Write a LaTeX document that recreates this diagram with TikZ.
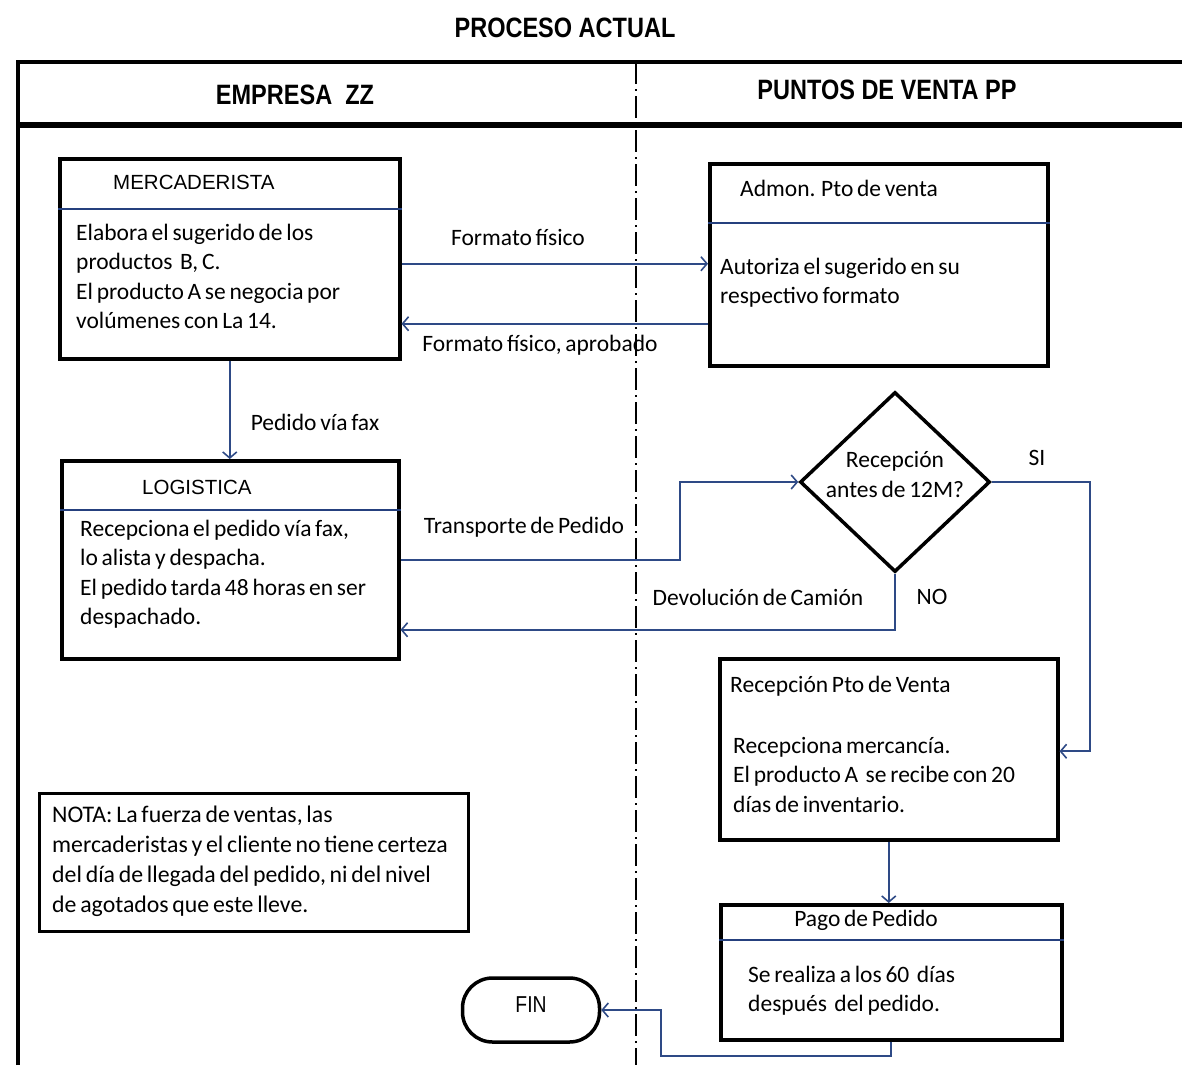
\documentclass[tikz,border=0pt]{standalone}
\usepackage{fontspec}
\setmainfont{Carlito}[WordSpace=0.7]
\newfontfamily\hdr[FakeStretch=0.84]{Liberation Sans}
\newfontfamily\arl{Liberation Sans}
\usetikzlibrary{arrows.meta,shapes.geometric,calc}
\definecolor{conn}{HTML}{2E4A86}
\definecolor{divc}{HTML}{25407E}
\tikzset{
  box/.style={draw=black, line width=3.5pt, inner sep=0pt, anchor=north west},
  conn/.style={draw=conn, line width=2pt, -{Straight Barb[length=6pt,width=14pt,line width=1.6pt]}},
  divl/.style={draw=divc, line width=1.6pt},
  txt/.style={inner sep=0pt, font=\fontsize{23.5}{29.6}\selectfont},
  body/.style={txt, anchor=base west, align=left},
  lab/.style={txt, anchor=center},
  ttl/.style={inner sep=0pt, anchor=base west, font=\arl\fontsize{20.5}{24}\selectfont},
  head/.style={inner sep=0pt, anchor=center, font=\hdr\bfseries\fontsize{28}{32}\selectfont}
}
\begin{document}
\begin{tikzpicture}[x=1pt,y=-1pt]
\useasboundingbox (0,0) rectangle (1182,1065);
% frame
\draw[line width=1.5pt, dash pattern=on 22pt off 5pt on 2pt off 5pt] (636,62) -- (636,1065);
\draw[line width=4pt] (18,1065) -- (18,62) -- (1182,62);
\draw[line width=6pt] (16,125) -- (1182,125);
\node[head] (title) at (565,28) {PROCESO ACTUAL};
\node[head] (lane1) at (295,95) {EMPRESA\ \ ZZ};
\node[head] (lane2) at (887,90) {PUNTOS DE VENTA PP};
% MERCADERISTA
\node[box, minimum width=340pt, minimum height=200pt] (merc) at (58,157) {};
\draw[divl] (merc.west |- 0,209) -- (merc.east |- 0,209);
\node[ttl] (mercT) at (113,189) {MERCADERISTA};
\node[body] (mercB) at (76,328.8) {Elabora el sugerido de los\\productos\ \ B, C.\\El producto A se negocia por\\volúmenes con La 14.};
% Admon
\node[box, minimum width=338pt, minimum height=202pt] (admon) at (708,162) {};
\draw[divl] (admon.west |- 0,223) -- (admon.east |- 0,223);
\node[txt, anchor=base west] (admonT) at (740,196) {Admon. Pto de venta};
\node[body] (admonB) at (720,303.6) {Autoriza el sugerido en su\\respectivo formato};
% arrows between
\draw[conn] ([yshift=-5pt]merc.east) -- ([yshift=-5pt]merc.east -| admon.west);
\node[lab] (l1) at (518,237) {Formato físico};
\draw[conn] ([yshift=-59pt]admon.west) -- ([yshift=-59pt]admon.west -| merc.east);
\node[lab] (l2) at (540,345) {Formato físico, aprobado};
% LOGISTICA
\node[box, minimum width=337pt, minimum height=198pt] (logi) at (60,459) {};
\draw[divl] (logi.west |- 0,510) -- (logi.east |- 0,510);
\node[ttl] (logiT) at (142,494) {LOGISTICA};
\node[body] (logiB) at (80,624.8) {Recepciona el pedido vía fax,\\lo alista y despacha.\\El pedido tarda 48 horas en ser\\despachado.};
\draw[conn] (merc.south) -- (merc.south |- logi.north);
\node[lab] (l3) at (315,422) {Pedido vía fax};
% Diamond
\node[draw, line width=3.5pt, diamond, minimum width=190pt, minimum height=180pt, inner sep=0pt] (dia) at (895,482) {};
\node[txt, align=center, font=\fontsize{23.5}{30}\selectfont] (diaT) at (895,474) {Recepción\\antes de 12M?};
\draw[conn] (logi.east) -- ++(279,0) |- (dia.west);
\node[lab] (l4) at (524,527) {Transporte de Pedido};
% Recepcion Pto de Venta
\node[box, minimum width=338pt, minimum height=181pt] (recep) at (718,657) {};
\node[txt, anchor=base west] (recepT) at (730,692) {Recepción Pto de Venta};
\node[body] (recepB) at (733,812.2) {Recepciona mercancía.\\El producto A\ \ se recibe con 20\\días de inventario.};
\draw[conn] (dia.east) -- ++(98,0) |- ([yshift=-2pt]recep.east);
\node[lab] (si) at (1037,458) {SI};
\draw[conn] (dia.south) |- ([yshift=-70pt]logi.east);
\node[lab] (l5) at (758,597) {Devolución de Camión};
\node[lab] (no) at (932,597) {NO};
% Pago de Pedido
\node[box, minimum width=341pt, minimum height=135pt] (pago) at (719,903) {};
\draw[divl] (pago.west |- 0,940) -- (pago.east |- 0,940);
\node[txt, anchor=base] (pagoT) at (866,926) {Pago de Pedido};
\node[body] (pagoB) at (748,1011.6) {Se realiza a los 60\ \ días\\después\ \ del pedido.};
\draw[conn] (recep.south) -- (recep.south |- pago.north);
% FIN
\node[draw, line width=3.5pt, rounded corners=30pt, minimum width=137pt, minimum height=64pt, inner sep=0pt, font=\hdr\fontsize{23}{26}\selectfont] (fin) at (531,1010) {\raisebox{10pt}{FIN}};
\draw[conn] (pago.south) -- ++(0,14) -- ++(-230,0) |- (fin.east);
% NOTA
\node[box, line width=3pt, minimum width=429pt, minimum height=138pt] (nota) at (38,792) {};
\node[body, font=\fontsize{23.8}{30}\selectfont] (notaT) at (52,912) {NOTA: La fuerza de ventas, las\\mercaderistas y el cliente no tiene certeza\\del día de llegada del pedido, ni del nivel\\de agotados que este lleve.};
\end{tikzpicture}
\end{document}
